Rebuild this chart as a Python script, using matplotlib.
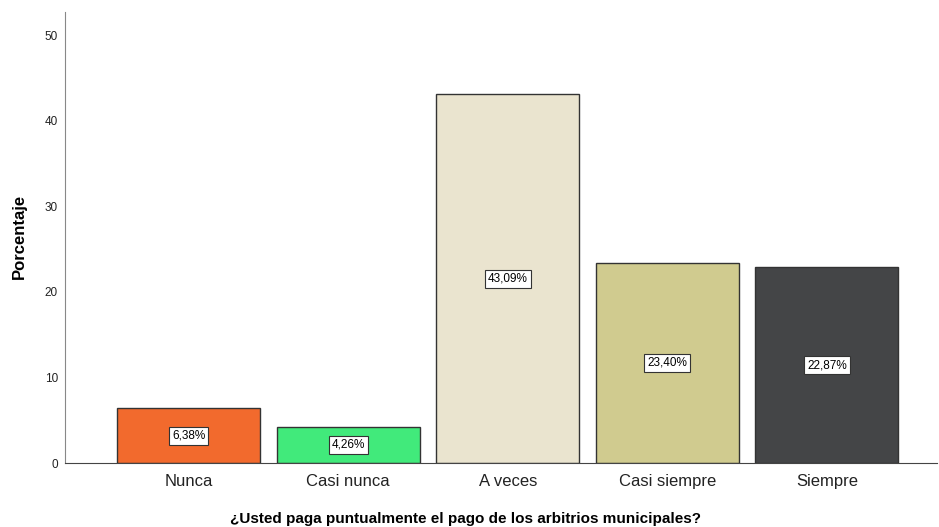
import matplotlib
matplotlib.use("Agg")
import matplotlib.pyplot as plt

categories = ["Nunca", "Casi nunca", "A veces", "Casi siempre", "Siempre"]
percentages = [6.38, 4.26, 43.09, 23.40, 22.87]
colors = ["#F26A2D", "#41EA7B", "#EAE4CF", "#D0CB8F", "#444547"]
yticks = [0, 10, 20, 30, 40, 50]

plt.rcParams["font.family"] = ["Liberation Sans", "DejaVu Sans"]

fig = plt.figure(figsize=(9.39, 5.27), dpi=100)
ax = fig.add_axes([65 / 939, 64 / 527, 872 / 939, 451 / 527])

x = list(range(len(categories)))
ax.bar(x, percentages, width=0.897, color=colors, edgecolor="#333333", linewidth=1.0, zorder=2)

for xi, v in zip(x, percentages):
    ax.text(xi, v / 2, f"{v:.2f}%".replace(".", ","), ha="center", va="center", fontsize=8.5,
            bbox=dict(boxstyle="square,pad=0.25", facecolor="white", edgecolor="#333333", linewidth=0.8),
            zorder=3)

ax.set_xlim(-0.775, 4.69)
ax.set_ylim(0, 52.7)
ax.set_yticks(yticks)
ax.set_xticks(x)
ax.set_xticklabels(categories, fontsize=12, color="#222222")
ax.tick_params(axis="y", length=0, labelsize=8.5, pad=5, labelcolor="#222222")
ax.tick_params(axis="x", length=0, pad=8)

for s in ["top", "right"]:
    ax.spines[s].set_visible(False)
ax.spines["left"].set_color("#888888")
ax.spines["bottom"].set_color("#444444")

ax.set_ylabel("Porcentaje", fontsize=12, fontweight="bold", va="center")
ax.yaxis.set_label_coords(-0.052, (527 - 236 - 64) / 451)
ax.set_xlabel("¿Usted paga puntualmente el pago de los arbitrios municipales?",
              fontsize=11, fontweight="bold", va="center")
ax.xaxis.set_label_coords((465 - 65) / 872, -0.125)

fig.savefig("out.png", dpi=100)
